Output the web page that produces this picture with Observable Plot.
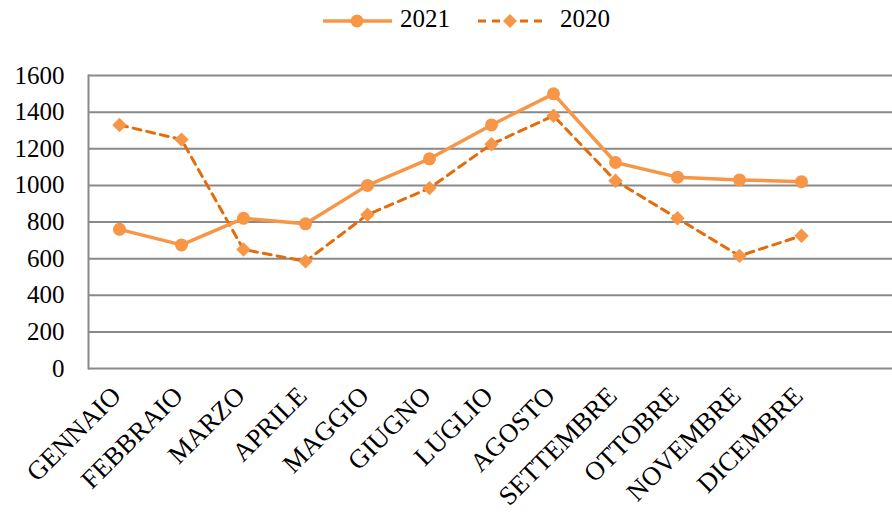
<!DOCTYPE html>
<html>
<head>
<meta charset="utf-8">
<script src="https://cdn.jsdelivr.net/npm/d3@7"></script>
<script src="https://cdn.jsdelivr.net/npm/@observablehq/plot@0.6"></script>
<style>
  html, body { margin: 0; padding: 0; background: #fff; }
  #wrap { width: 892px; font-family: "Liberation Serif", "Times New Roman", "DejaVu Serif", serif; }
  #legend { position: relative; height: 45px; }
  #legend .item { position: absolute; top: 4px; display: flex; align-items: center; font-size: 25px; color: #000; }
  #legend svg { display: block; margin-right: 6px; }
</style>
</head>
<body>
<div id="wrap">
  <div id="legend">
    <div class="item" style="left:322px">
      <svg width="72" height="30"><line x1="1" y1="17" x2="70" y2="17" stroke="#F79646" stroke-width="3.5"/><circle cx="35" cy="17" r="6.5" fill="#F79646"/></svg>
      <span>2021</span>
    </div>
    <div class="item" style="left:478px">
      <svg width="70" height="30"><line x1="0" y1="17" x2="64" y2="17" stroke="#E46C0A" stroke-width="3" stroke-dasharray="8,6"/><path d="M32,10 L39,17 L32,24 L25,17 Z" fill="#F79646"/></svg>
      <span style="margin-left:6px">2020</span>
    </div>
  </div>
  <div id="chart"></div>
</div>
<script>
// Monthly values for the two years
const months = ["GENNAIO", "FEBBRAIO", "MARZO", "APRILE", "MAGGIO", "GIUGNO",
                "LUGLIO", "AGOSTO", "SETTEMBRE", "OTTOBRE", "NOVEMBRE", "DICEMBRE"];
const values2021 = [760, 675, 820, 790, 1000, 1145, 1330, 1500, 1125, 1045, 1030, 1020];
const values2020 = [1330, 1250, 650, 585, 840, 985, 1225, 1380, 1025, 820, 615, 725];
const yTicks = [0, 200, 400, 600, 800, 1000, 1200, 1400, 1600];

const rows2021 = months.map((m, i) => ({month: m, value: values2021[i]}));
const rows2020 = months.map((m, i) => ({month: m, value: values2020[i]}));

const font = "'Liberation Serif', 'Times New Roman', 'DejaVu Serif', serif";

const chart = Plot.plot({
  width: 892,
  height: 467,
  marginTop: 30,
  marginBottom: 144,
  marginLeft: 88,
  marginRight: 0,
  style: {fontFamily: font, fontSize: "25px", color: "#000", background: "#fff"},
  x: {type: "point", domain: months, range: [119, 801], padding: 0, axis: null},
  y: {domain: [0, 1600], axis: null},
  marks: [
    Plot.ruleY(yTicks, {stroke: "#898989", strokeWidth: 2}),
    Plot.frame({anchor: "left", stroke: "#898989", strokeWidth: 2}),
    Plot.text(yTicks, {y: d => d, text: d => String(d), frameAnchor: "left", dx: -24, textAnchor: "end", fontSize: 25, fontFamily: font, fill: "#000"}),
    Plot.text(months, {x: d => d, text: d => d, frameAnchor: "bottom", dx: 3, dy: 29, rotate: -45, textAnchor: "end", lineAnchor: "bottom", fontSize: 26.5, fontFamily: font, fill: "#000"}),
    Plot.line(rows2020, {x: "month", y: "value", stroke: "#E46C0A", strokeWidth: 3, strokeDasharray: "8,6"}),
    Plot.dot(rows2020, {x: "month", y: "value", symbol: "diamond2", r: 6.5, fill: "#F79646", stroke: "none"}),
    Plot.line(rows2021, {x: "month", y: "value", stroke: "#F79646", strokeWidth: 3.5}),
    Plot.dot(rows2021, {x: "month", y: "value", r: 6.5, fill: "#F79646", stroke: "none"})
  ]
});
document.getElementById("chart").appendChild(chart);
</script>
</body>
</html>
